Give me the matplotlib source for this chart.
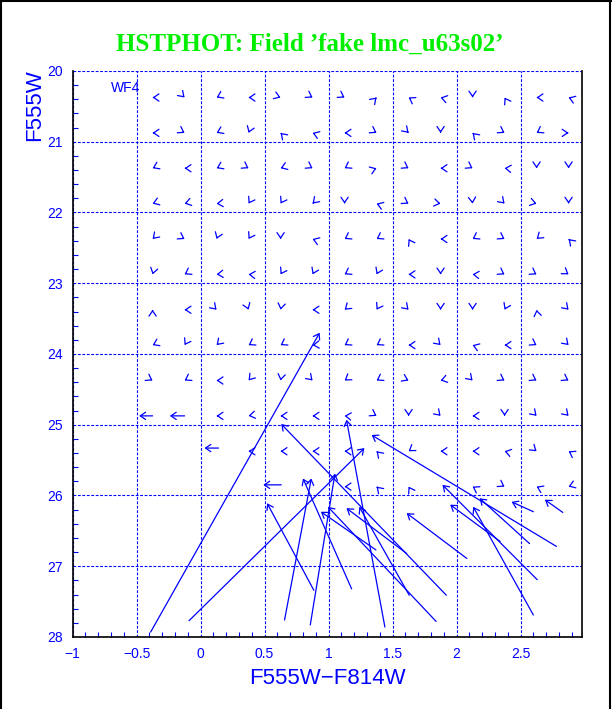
import numpy as np
import matplotlib
matplotlib.use('Agg')
import matplotlib.pyplot as plt
from matplotlib.ticker import MultipleLocator, FuncFormatter

# input grid of fake stars (colour, magnitude)
cols = [-0.375, -0.125, 0.125, 0.375, 0.625, 0.875, 1.125, 1.375,
        1.625, 1.875, 2.125, 2.375, 2.625, 2.875]
rows = [20.375, 20.875, 21.375, 21.875, 22.375, 22.875, 23.375,
        23.875, 24.375, 24.875, 25.375, 25.875]

# direction of the tiny offsets (screen degrees), None = no small arrow
small_dirs = [
    [180, 315, 205, 180, 340, 330, 330, 45, 150, 165, 270, 120, 180, 160],
    [180, 330, 205, 250, 135, 160, 180, 330, 315, 270, 135, 330, 210, 0],
    [205, 180, 205, 330, 200, 330, 210, 20, 330, 180, 330, 175, 270, 270],
    [200, 195, 185, 240, 240, 225, 270, 160, 330, 350, 275, 315, 345, 270],
    [225, 330, 250, 240, 270, 160, 210, 210, 120, 180, 210, 330, 220, 135],
    [255, 210, 185, 175, 240, 245, 210, 245, 180, 270, 175, 330, 330, 325],
    [90, 180, 315, 290, 260, 180, 220, 240, 315, 270, 270, 245, 100, 315],
    [205, 240, 225, 210, 210, 185, 210, 210, 180, 315, 160, 180, 330, 315],
    [330, 210, 180, 230, 260, 315, 215, 210, 335, 195, 315, 330, 330, 330],
    [None, None, 180, 190, 180, 180, 175, 330, 270, 315, 180, 270, 315, 315],
    [None, None, None, 180, 180, 180, 180, 135, 215, 180, 180, 165, 320, 150],
    [None, None, None, None, None, None, 180, 135, 120, None, 150, 330, 155, 200],
]

# large offsets: input colour/mag -> recovered colour/mag
big_x_in = [-0.375, -0.125, 0.14, 0.63, -0.39, -0.09, 1.44, 1.92, 0.885,
            0.656, 1.18, 0.857, 1.63, 2.83, 2.60, 2.60, 2.34, 2.08, 2.63,
            2.57, 1.84, 2.78, 1.61, 1.37]
big_y_in = [24.875, 24.875, 25.33, 25.85, 27.93, 27.77, 27.86, 27.41, 27.34,
            27.76, 27.32, 27.83, 27.41, 26.24, 26.23, 27.69, 26.65, 26.89, 27.19,
            26.68, 27.78, 26.72, 26.82, 26.77]
big_x_out = [-0.48, -0.24, 0.03, 0.49, 0.93, 1.28, 1.14, 0.63, 0.52,
             0.865, 0.80, 1.05, 1.24, 2.69, 2.43, 2.13, 1.95, 1.61, 1.89,
             2.18, 0.995, 1.336, 1.14, 0.94]
big_y_out = [24.875, 24.875, 25.33, 25.85, 23.70, 25.33, 24.93, 24.99, 26.11,
             25.76, 25.76, 25.69, 26.16, 26.06, 26.09, 26.16, 26.13, 26.25, 25.85,
             26.04, 26.16, 25.145, 26.18, 26.23]

fig = plt.figure(figsize=(6.12, 7.09), dpi=100)
ax = fig.add_axes([0.1186, 0.1016, 0.8324, 0.7983])
blue = '#0000ff'

hs = dict(arrowstyle='->,head_length=3.8,head_width=2.6', color=blue,
          lw=0.9, shrinkA=0, shrinkB=0, mutation_scale=1)

for r, y in enumerate(rows):
    for c, x in enumerate(cols):
        a = small_dirs[r][c]
        if a is None:
            continue
        t = np.radians(a)
        ax.annotate('', xy=(x, y), xytext=(-1.2 * np.cos(t), -1.2 * np.sin(t)),
                    textcoords='offset points', arrowprops=hs)

for x0, y0, x1, y1 in zip(big_x_in, big_y_in, big_x_out, big_y_out):
    ax.annotate('', xy=(x1, y1), xytext=(x0, y0), arrowprops=hs)

ax.set_xlim(-1, 2.98)
ax.set_ylim(28, 20)
ax.xaxis.set_major_locator(MultipleLocator(0.5))
ax.xaxis.set_minor_locator(MultipleLocator(0.1))
ax.yaxis.set_major_locator(MultipleLocator(1))
ax.yaxis.set_minor_locator(MultipleLocator(0.2))
ax.xaxis.set_major_formatter(FuncFormatter(lambda v, p: ('%g' % v).replace('-', '\u2212')))
ax.yaxis.set_major_formatter(FuncFormatter(lambda v, p: '%g' % v))
ax.grid(True, which='major', color=blue, ls=(0, (2.5, 1.5)), lw=0.8)
ax.tick_params(which='both', direction='in', colors=blue, labelsize=10)
ax.tick_params(which='major', length=0)
ax.tick_params(which='minor', length=3.5, width=0.8)
ax.tick_params(axis='x', pad=7)
ax.tick_params(axis='y', pad=7)
ax.spines['top'].set_visible(False)
for s in ['left', 'bottom', 'right']:
    ax.spines[s].set_color('black')
    ax.spines[s].set_linewidth(1.2)
for lab in ax.get_xticklabels() + ax.get_yticklabels():
    lab.set_family('Liberation Sans')

ax.text(-0.70, 20.24, 'WF4', color=blue, fontsize=10, family='Liberation Sans',
        va='center', ha='left')
ax.set_xlabel('F555W\u2212F814W', color=blue, fontsize=16, family='Liberation Sans',
              labelpad=5)
fig.text(0.057, 0.852, 'F555W', color=blue, fontsize=16, family='Liberation Sans',
         rotation=90, ha='center', va='center')
fig.text(0.506, 0.938, 'HSTPHOT: Field \u2019fake lmc_u63s02\u2019', color='#00ee00',
         fontsize=18, family='Liberation Serif', weight='bold', ha='center', va='center')

# frame around the whole picture
for xs, ys in [([0.001, 0.001], [0, 1]), ([0, 1], [0.999, 0.999]), ([0.997, 0.997], [0, 1])]:
    fig.add_artist(plt.Line2D(xs, ys, color='black', lw=1.5, transform=fig.transFigure))

fig.savefig('out.png', dpi=100)
